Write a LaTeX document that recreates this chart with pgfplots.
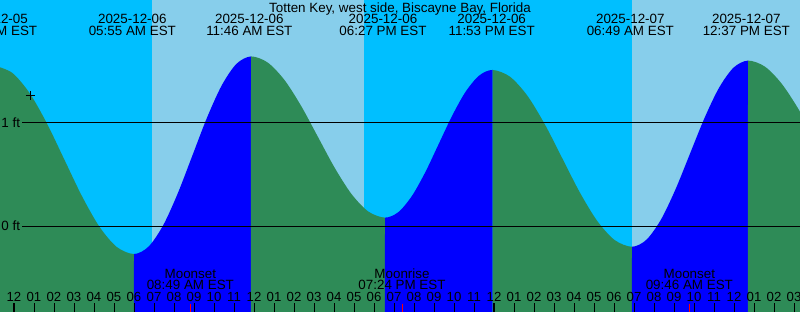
\documentclass[border=0pt]{standalone}
\usepackage{pgfplots}
\pgfplotsset{compat=1.18}
\usepgfplotslibrary{fillbetween}
\usepackage{fontspec}
\setmainfont{Liberation Sans}
\definecolor{night}{RGB}{0,191,255}
\definecolor{day}{RGB}{135,206,235}
\definecolor{ebb}{RGB}{46,139,87}
\definecolor{flood}{RGB}{0,0,255}
\tikzset{lbl/.style={anchor=base, inner sep=0pt, font=\fontsize{13.4}{13}\selectfont}}
\begin{document}
\begin{tikzpicture}
\begin{axis}[
  name=ax,
  width=800pt, height=312pt, scale only axis,
  xmin=-0.7, xmax=39.3, ymin=-0.8173, ymax=2.1827,
  set layers, axis on top,
  axis line style={draw=none},
  ytick=\empty,
  xtick={0,1,...,39},
  xticklabels={12,01,02,03,04,05,06,07,08,09,10,11,12,01,02,03,04,05,06,07,08,09,10,11,12,01,02,03,04,05,06,07,08,09,10,11,12,01,02,03},
  xtick pos=lower,
  tick align=inside,
  major tick length=8.5pt,
  major tick style={black, line width=1pt},
  xticklabel style={anchor=base, yshift=10pt, inner sep=0pt, font=\fontsize{13.2}{13}\selectfont},
  extra x ticks={0,24},
  extra x tick labels={},
  extra x tick style={major tick style={black, line width=2.3pt}},
  clip=true,
]
% day / night background
\addplot[on layer=axis background, fill=night, draw=none] coordinates {(-1,-1)(6.9,-1)(6.9,2.3)(-1,2.3)} -- cycle;
\addplot[on layer=axis background, fill=day, draw=none] coordinates {(6.9,-1)(17.485,-1)(17.485,2.3)(6.9,2.3)} -- cycle;
\addplot[on layer=axis background, fill=night, draw=none] coordinates {(17.485,-1)(30.9,-1)(30.9,2.3)(17.485,2.3)} -- cycle;
\addplot[on layer=axis background, fill=day, draw=none] coordinates {(30.9,-1)(41,-1)(41,2.3)(30.9,2.3)} -- cycle;

% tide curve
\addplot[name path=tide, draw=none, smooth] coordinates {
(-0.95,1.55)(-0.081,1.481)(0.788,1.285)(1.656,0.992)(2.525,0.645)(3.394,0.298)(4.263,0.005)(5.131,-0.191)(6.0,-0.26)
(6.731,-0.188)(7.463,0.018)(8.194,0.326)(8.925,0.69)(9.656,1.054)(10.388,1.362)(11.119,1.568)(11.85,1.64)
(12.688,1.581)(13.525,1.413)(14.363,1.162)(15.2,0.865)(16.038,0.568)(16.875,0.317)(17.713,0.149)(18.55,0.09)
(19.223,0.144)(19.895,0.298)(20.568,0.528)(21.24,0.80)(21.913,1.072)(22.585,1.302)(23.258,1.456)(23.93,1.51)
(24.801,1.445)(25.673,1.261)(26.544,0.986)(27.415,0.66)(28.286,0.334)(29.158,0.059)(30.029,-0.125)(30.9,-0.19)
(31.625,-0.122)(32.35,0.072)(33.075,0.362)(33.8,0.705)(34.525,1.048)(35.25,1.338)(35.975,1.532)(36.7,1.60)
(37.538,1.543)(38.375,1.38)(39.213,1.137)(40.05,0.85)
};
\addplot[name path=bottom, draw=none] coordinates {(-2,-0.8173)(41,-0.8173)};
\addplot[ebb] fill between[of=tide and bottom, soft clip={domain=-2:6.0}];
\addplot[flood] fill between[of=tide and bottom, soft clip={domain=6.0:11.85}];
\addplot[ebb] fill between[of=tide and bottom, soft clip={domain=11.85:18.55}];
\addplot[flood] fill between[of=tide and bottom, soft clip={domain=18.55:23.93}];
\addplot[ebb] fill between[of=tide and bottom, soft clip={domain=23.93:30.9}];
\addplot[flood] fill between[of=tide and bottom, soft clip={domain=30.9:36.7}];
\addplot[ebb] fill between[of=tide and bottom, soft clip={domain=36.7:41}];

% datum lines
\addplot[black, line width=1pt] coordinates {(0.4,1)(39.5,1)};
\addplot[black, line width=1pt] coordinates {(0.4,0)(39.5,0)};

% current-time mark
\addplot[only marks, black, mark=+, mark size=4.5pt, line width=1.6pt] coordinates {(0.815,1.266)};

% moon event ticks
\addplot[red, line width=1pt] coordinates {(8.817,-0.736)(8.817,-0.8173)};
\addplot[red, line width=1pt] coordinates {(19.4,-0.736)(19.4,-0.8173)};
\addplot[red, line width=1pt] coordinates {(33.767,-0.736)(33.767,-0.8173)};

% labels
\node[lbl, anchor=base west] at (-0.635,0.955) {1 ft};
\node[lbl, anchor=base west] at (-0.635,-0.036) {0 ft};

\node[lbl] at (19.3,2.0615) {Totten Key, west side, Biscayne Bay, Florida};

\node[lbl] at (-1.02,1.952) {2025-12-05};
\node[lbl] at (-1.02,1.8365) {10:59 PM EST};
\node[lbl] at (5.917,1.952) {2025-12-06};
\node[lbl] at (5.917,1.8365) {05:55 AM EST};
\node[lbl] at (11.767,1.952) {2025-12-06};
\node[lbl] at (11.767,1.8365) {11:46 AM EST};
\node[lbl] at (18.45,1.952) {2025-12-06};
\node[lbl] at (18.45,1.8365) {06:27 PM EST};
\node[lbl] at (23.883,1.952) {2025-12-06};
\node[lbl] at (23.883,1.8365) {11:53 PM EST};
\node[lbl] at (30.817,1.952) {2025-12-07};
\node[lbl] at (30.817,1.8365) {06:49 AM EST};
\node[lbl] at (36.617,1.952) {2025-12-07};
\node[lbl] at (36.617,1.8365) {12:37 PM EST};

\node[lbl] at (8.817,-0.493) {Moonset};
\node[lbl] at (8.817,-0.599) {08:49 AM EST};
\node[lbl] at (19.4,-0.493) {Moonrise};
\node[lbl] at (19.4,-0.599) {07:24 PM EST};
\node[lbl] at (33.767,-0.493) {Moonset};
\node[lbl] at (33.767,-0.599) {09:46 AM EST};
\end{axis}
\pgfresetboundingbox
\path[use as bounding box] (ax.south west) rectangle (ax.north east);
\end{tikzpicture}
\end{document}
